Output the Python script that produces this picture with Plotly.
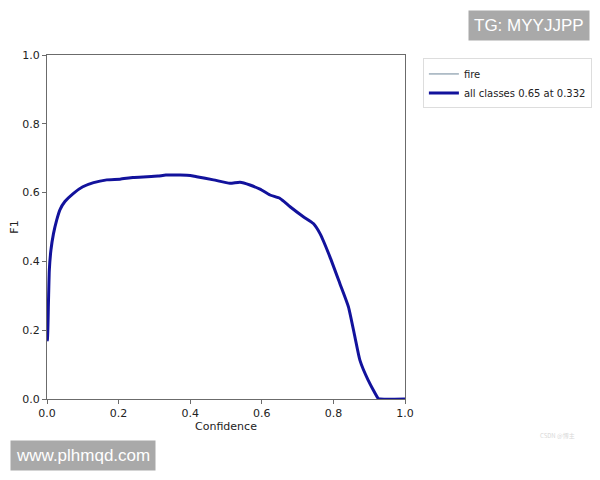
import plotly.graph_objects as go

confidence = [0, 0.001, 0.004, 0.0065, 0.011, 0.018, 0.027, 0.036, 0.05, 0.074, 0.10, 0.13,
              0.167, 0.204, 0.24, 0.28, 0.31, 0.332, 0.372, 0.40, 0.418, 0.465, 0.511, 0.539,
              0.567, 0.595, 0.623, 0.651, 0.679, 0.716, 0.744, 0.763, 0.79, 0.818, 0.842, 0.86,
              0.874, 0.897, 0.925, 0.93, 1.0]
f1 = [0.17, 0.171, 0.278, 0.375, 0.433, 0.48, 0.52, 0.55, 0.574, 0.598, 0.617, 0.629,
      0.637, 0.639, 0.644, 0.646, 0.648, 0.651, 0.651, 0.650, 0.646, 0.637, 0.627, 0.630,
      0.622, 0.61, 0.593, 0.583, 0.559, 0.53, 0.51, 0.48, 0.414, 0.336, 0.268, 0.181,
      0.113, 0.055, 0.002, 0, 0]
tick_vals = [0.0, 0.2, 0.4, 0.6, 0.8, 1.0]
tick_text = ["0.0", "0.2", "0.4", "0.6", "0.8", "1.0"]

font = "DejaVu Sans"
fig = go.Figure()
fig.add_trace(go.Scatter(x=confidence, y=f1, mode="lines", name="fire",
                         line=dict(color="#6f8799", width=1)))
fig.add_trace(go.Scatter(x=confidence, y=f1, mode="lines", name="all classes 0.65 at 0.332",
                         line=dict(color="#12129c", width=3, shape="spline", smoothing=0.5)))

axis_common = dict(range=[0, 1], tickvals=tick_vals, ticktext=tick_text, showgrid=False,
                   zeroline=False, showline=True, linecolor="#6b6b6b", linewidth=1.3,
                   mirror=True, ticks="outside", ticklen=4, tickcolor="#6b6b6b",
                   tickfont=dict(family=font, size=11, color="#222"))
fig.update_xaxes(title=dict(text="Confidence", font=dict(family=font, size=11, color="#222"),
                            standoff=0), **axis_common)
fig.update_yaxes(title=dict(text="F1", font=dict(family=font, size=11, color="#222"),
                            standoff=10), **axis_common)

fig.update_layout(
    width=592, height=472,
    margin=dict(l=39, r=195, t=47, b=81, autoexpand=False),
    paper_bgcolor="white", plot_bgcolor="white",
    font=dict(family=font, size=11, color="#222"),
    legend=dict(x=1.05, y=0.99, xanchor="left", yanchor="top",
                bordercolor="#dddddd", borderwidth=1, bgcolor="white",
                font=dict(family=font, size=10, color="#222"), tracegroupgap=0,
                itemwidth=30),
    showlegend=True,
)

fig.add_annotation(xref="paper", yref="paper", x=1.517, y=1.131, xanchor="right", yanchor="top",
                   text="TG: MYYJJPP", showarrow=False, bgcolor="#a9a9a9",
                   font=dict(family="Liberation Sans", size=17, color="white"),
                   borderpad=5)
fig.add_annotation(xref="paper", yref="paper", x=-0.103, y=-0.119, xanchor="left", yanchor="top",
                   text="www.plhmqd.com", showarrow=False, bgcolor="#a9a9a9",
                   font=dict(family="Liberation Sans", size=17, color="white"),
                   borderpad=5)
fig.add_annotation(xref="paper", yref="paper", x=1.48, y=-0.105, xanchor="right", yanchor="middle",
                   text="CSDN @博主", showarrow=False,
                   font=dict(family="Noto Sans CJK SC", size=6, color="#d8d8d8"))

fig.write_html("out.html")
